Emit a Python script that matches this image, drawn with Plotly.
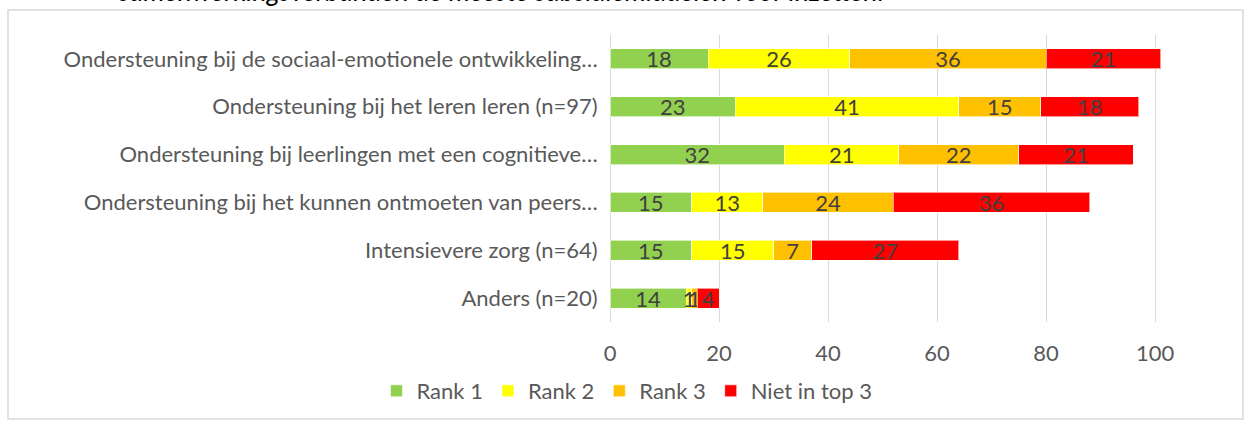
import plotly.graph_objects as go

categories = [
    "Ondersteuning bij de sociaal-emotionele ontwikkeling…",
    "Ondersteuning bij het leren leren (n=97)",
    "Ondersteuning bij leerlingen met een cognitieve…",
    "Ondersteuning bij het kunnen ontmoeten van peers…",
    "Intensievere zorg (n=64)",
    "Anders (n=20)",
]
rank1 = [18, 23, 32, 15, 15, 14]
rank2 = [26, 41, 21, 13, 15, 1]
rank3 = [36, 15, 22, 24, 7, 1]
niet_top3 = [21, 18, 21, 36, 27, 4]
series_names = ["Rank 1", "Rank 2", "Rank 3", "Niet in top 3"]
series_colors = ["#92D050", "#FFFF00", "#FFC000", "#FF0000"]
x_ticks = [0, 20, 40, 60, 80, 100]
title_text = "samenwerkingsverbanden de meeste subsidiemiddelen voor inzetten."

FONT = "Lato, Calibri, Carlito, sans-serif"
FS = 22

fig = go.Figure()
for name, vals, col in zip(series_names, [rank1, rank2, rank3, niet_top3], series_colors):
    fig.add_trace(go.Bar(
        y=categories, x=vals, name=name, orientation="h",
        marker=dict(color=col, line=dict(color="rgba(255,255,255,0.6)", width=1)),
        text=[str(v) for v in vals], textposition="inside", insidetextanchor="middle",
        textangle=0,
        textfont=dict(color="#404040", size=FS, family=FONT),
        constraintext="none", cliponaxis=False,
    ))

fig.update_layout(
    template="none",
    width=1244, height=421,
    barmode="stack", bargap=0.58,
    plot_bgcolor="white", paper_bgcolor="white",
    margin=dict(l=610, r=78, t=35, b=99, autoexpand=False),
    font=dict(family=FONT, size=FS, color="#595959"),
    uniformtext=dict(minsize=FS, mode="show"),
    xaxis=dict(range=[0, 102], tickvals=x_ticks, showgrid=True, gridcolor="#D9D9D9",
               gridwidth=1, zeroline=True, zerolinecolor="#D9D9D9", zerolinewidth=1,
               showline=False, ticks="", automargin=False, ticklabelstandoff=16,
               tickfont=dict(size=FS, color="#595959")),
    yaxis=dict(autorange="reversed", showgrid=False, ticks="", ticksuffix="  ",
               automargin=False, showline=False, zeroline=False,
               tickfont=dict(size=FS, color="#595959")),
    legend=dict(orientation="h", x=627 / 1244, xanchor="center", xref="container",
                y=(421 - 391) / 421, yref="container", yanchor="middle",
                font=dict(size=FS, color="#595959"),
                traceorder="normal", bgcolor="rgba(0,0,0,0)"),
    showlegend=True,
)

# chart border box
fig.add_shape(type="rect", xref="paper", yref="paper",
              x0=(8 - 610) / 556, x1=(1243 - 610) / 556,
              y0=(322 - 419) / 287, y1=(322 - 10) / 287,
              line=dict(color="#D9D9D9", width=1.5), layer="below")

fig.add_annotation(text="<i>" + title_text + "</i>", xref="paper", yref="paper",
                   x=(501 - 610) / 556, xanchor="center",
                   y=(322 - 9) / 287, yanchor="bottom",
                   showarrow=False, font=dict(size=27, color="#000000", family=FONT))

fig.write_html("out.html", post_script="document.body.style.margin='0';",
               config={"displayModeBar": False})
